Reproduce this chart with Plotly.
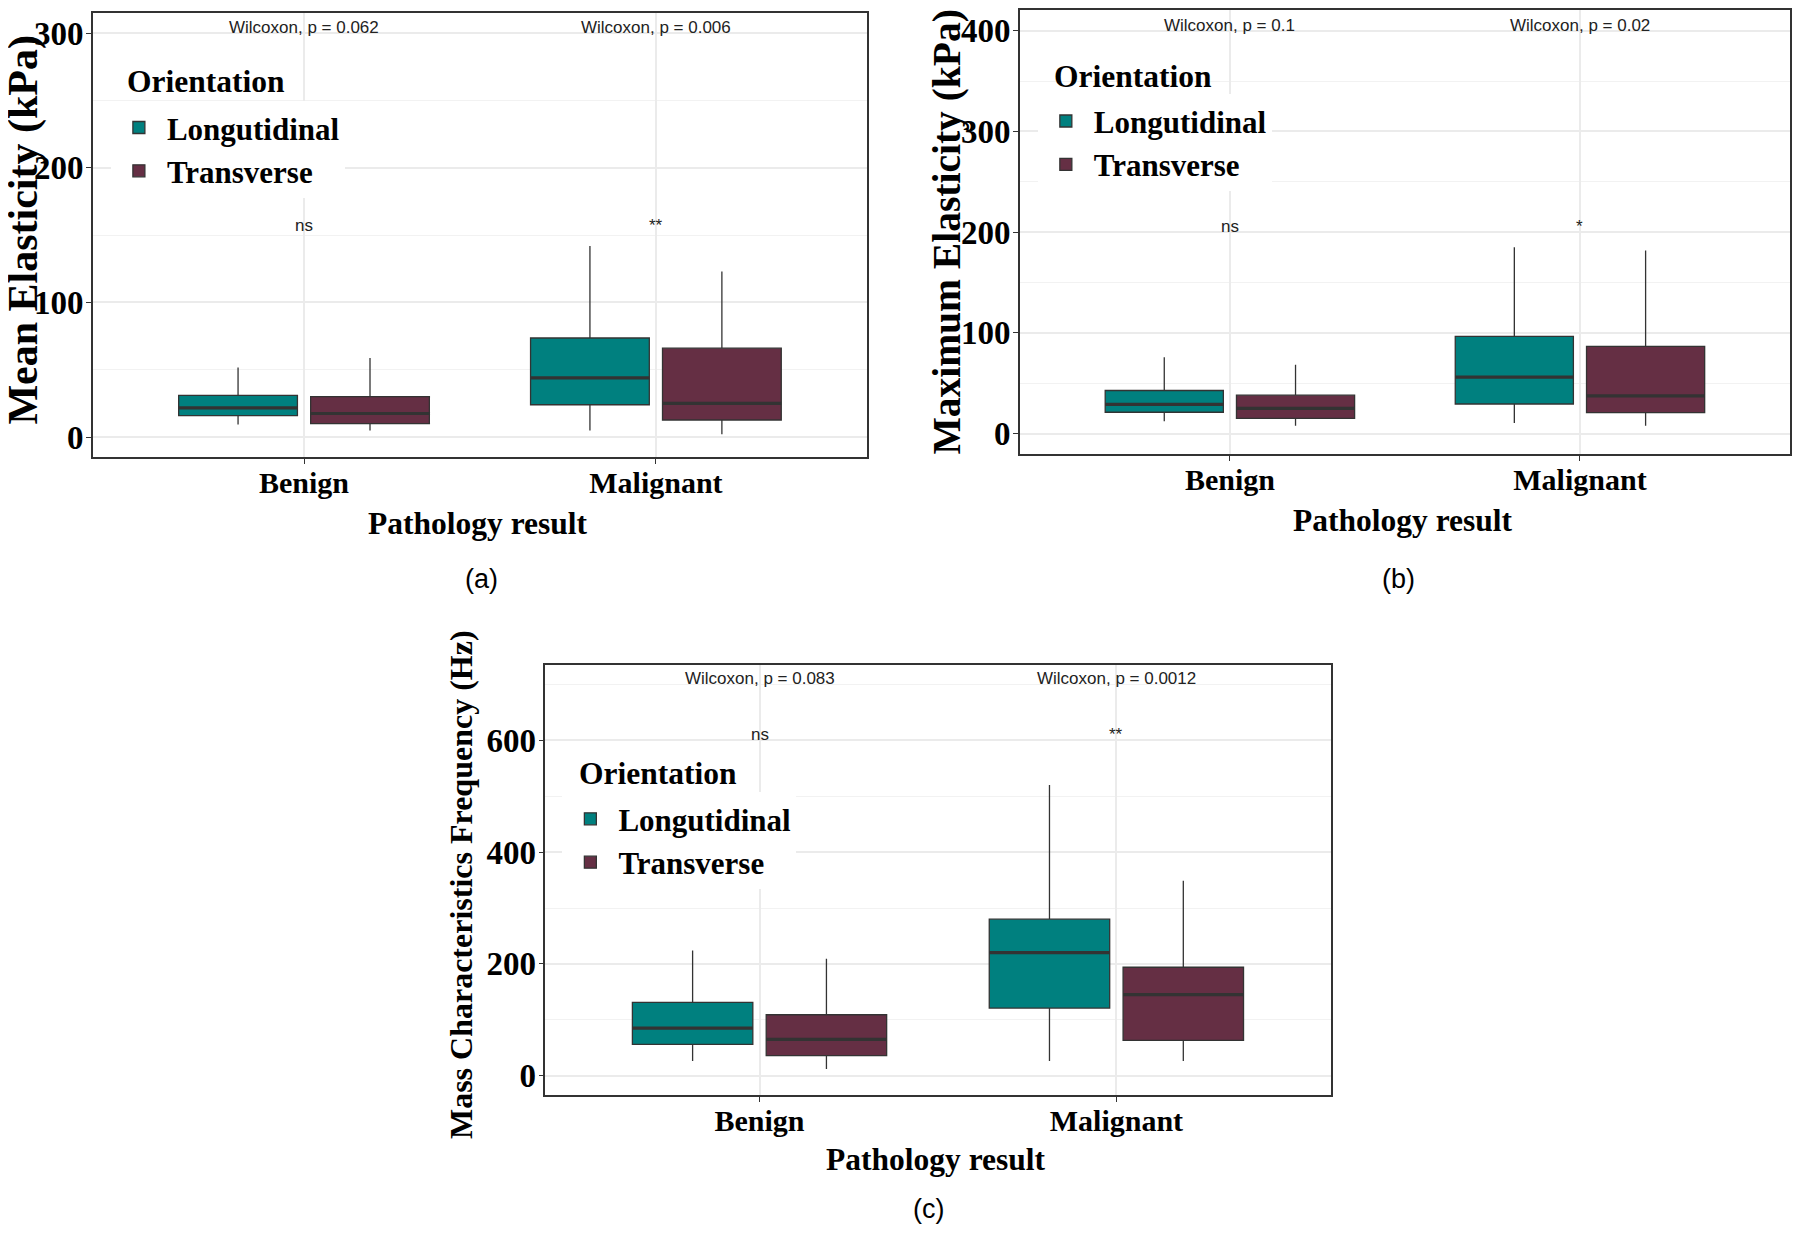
import plotly.graph_objects as go

# ---------------- data ----------------
categories = ["Benign", "Malignant"]
orientations = ["Longutidinal", "Transverse"]

# Panel (a): Mean Elasticity (kPa)
a_long_q1 = [16, 24]
a_long_med = [21.7, 44]
a_long_q3 = [31, 73.6]
a_long_lo = [9.3, 4.8]
a_long_hi = [51.7, 142]
a_tran_q1 = [10, 12.7]
a_tran_med = [17.5, 25]
a_tran_q3 = [30, 66]
a_tran_lo = [4.8, 2.1]
a_tran_hi = [58.8, 123]
a_pvals = ["Wilcoxon, p = 0.062", "Wilcoxon, p = 0.006"]
a_sig = ["ns", "**"]

# Panel (b): Maximum Elasticity (kPa)
b_long_q1 = [21.2, 29.4]
b_long_med = [29, 56]
b_long_q3 = [42.8, 96.5]
b_long_lo = [12.4, 10.6]
b_long_hi = [75.7, 185]
b_tran_q1 = [15.2, 20.9]
b_tran_med = [25, 37.5]
b_tran_q3 = [38.2, 86.6]
b_tran_lo = [7.8, 7.8]
b_tran_hi = [68.3, 181.8]
b_pvals = ["Wilcoxon, p = 0.1", "Wilcoxon, p = 0.02"]
b_sig = ["ns", "*"]

# Panel (c): Mass Characteristics Frequency (Hz)
c_long_q1 = [56, 121]
c_long_med = [85, 220]
c_long_q3 = [131, 280]
c_long_lo = [26, 26]
c_long_hi = [224, 520]
c_tran_q1 = [36, 63]
c_tran_med = [65, 145]
c_tran_q3 = [109, 194]
c_tran_lo = [12, 26]
c_tran_hi = [209, 349]
c_pvals = ["Wilcoxon, p = 0.083", "Wilcoxon, p = 0.0012"]
c_sig = ["ns", "**"]

# ---------------- style ----------------
OFF = 8                      # default page margin around the plot div
W, H = 1800 - 2 * OFF, 1235 - 2 * OFF
TEAL = "#00807F"
MAROON = "#652F44"
EDGE = "#333333"
GRID = "#EBEBEB"
SERIF = "Liberation Serif, Times New Roman, serif"
SANS = "Liberation Sans, Arial, sans-serif"


def px_x(p):
    return min(1.0, max(0.0, (p - OFF) / W))


def px_y(p):
    return min(1.0, max(0.0, 1 - (p - OFF) / H))


panels = [
    dict(key="", leg="legend",
         long=(a_long_q1, a_long_med, a_long_q3, a_long_lo, a_long_hi),
         tran=(a_tran_q1, a_tran_med, a_tran_q3, a_tran_lo, a_tran_hi),
         pvals=a_pvals, sig=a_sig, pv_y=304, sig_y=157,
         xdom=(93, 868), ydom=(11, 456), yrange=(-15, 315), dtick=100,
         ytitle="Mean Elasticity (kPa)", ytitle_size=42, ytitle_pos=(24, 228),
         xtitle_pos=(479, 522), sub="(a)", sub_pos=(482, 578),
         legbox=(115, 50, 349, 197), legtitle=(125, 80), legpos=(111, 99)),
    dict(key="2", leg="legend2",
         long=(b_long_q1, b_long_med, b_long_q3, b_long_lo, b_long_hi),
         tran=(b_tran_q1, b_tran_med, b_tran_q3, b_tran_lo, b_tran_hi),
         pvals=b_pvals, sig=b_sig, pv_y=405, sig_y=206,
         xdom=(1021, 1792), ydom=(8, 453), yrange=(-20.5, 420.5), dtick=100,
         ytitle="Maximum Elasticity (kPa)", ytitle_size=39.5, ytitle_pos=(948, 230),
         xtitle_pos=(1405, 519), sub="(b)", sub_pos=(1400, 578),
         legbox=(1043, 40, 1275, 190), legtitle=(1053, 75), legpos=(1039, 92.5)),
    dict(key="3", leg="legend3",
         long=(c_long_q1, c_long_med, c_long_q3, c_long_lo, c_long_hi),
         tran=(c_tran_q1, c_tran_med, c_tran_q3, c_tran_lo, c_tran_hi),
         pvals=c_pvals, sig=c_sig, pv_y=711, sig_y=611,
         xdom=(546, 1332), ydom=(664, 1095), yrange=(-35, 735), dtick=200,
         ytitle="Mass Characteristics Frequency (Hz)", ytitle_size=32, ytitle_pos=(461, 884),
         xtitle_pos=(937, 1159), sub="(c)", sub_pos=(930, 1209),
         legbox=(568, 745, 805, 886), legtitle=(578, 773), legpos=(563, 791.5)),
]

fig = go.Figure()
annotations = []
shapes = []
layout = dict(
    width=W, height=H,
    margin=dict(l=0, r=0, t=0, b=0),
    paper_bgcolor="white", plot_bgcolor="white",
    boxmode="group", boxgap=0.25, boxgroupgap=0.1,
    showlegend=True,
)

for p in panels:
    k = p["key"]
    xa, ya = "x" + k, "y" + k
    for name, stats, color, grp in [
        (orientations[0], p["long"], TEAL, "L"),
        (orientations[1], p["tran"], MAROON, "T"),
    ]:
        q1, med, q3, lo, hi = stats
        fig.add_trace(go.Box(
            x=categories, q1=q1, median=med, q3=q3, lowerfence=lo, upperfence=hi,
            name=name, fillcolor=color, line=dict(color=EDGE, width=1.3),
            whiskerwidth=0, boxpoints=False, offsetgroup=grp, alignmentgroup="g" + k,
            xaxis=xa, yaxis=ya, legend=p["leg"], showlegend=True,
        ))
        # thicker median line overlay
        fig.add_trace(go.Box(
            x=categories, q1=med, median=med, q3=med, lowerfence=med, upperfence=med,
            name=name, fillcolor="rgba(0,0,0,0)", line=dict(color=EDGE, width=3.2),
            whiskerwidth=0, boxpoints=False, offsetgroup=grp, alignmentgroup="g" + k,
            xaxis=xa, yaxis=ya, legend=p["leg"], showlegend=False, hoverinfo="skip",
        ))

    layout["xaxis" + k] = dict(
        domain=[px_x(p["xdom"][0]), px_x(p["xdom"][1])], anchor=ya,
        type="category", categoryorder="array", categoryarray=categories,
        range=[-0.6, 1.6], showgrid=True, gridcolor=GRID, gridwidth=1.5,
        showline=True, mirror=True, linecolor=EDGE, linewidth=1.5,
        ticks="outside", ticklen=5, tickcolor=EDGE, tickwidth=1,
        ticklabelstandoff=-7,
        tickfont=dict(family=SERIF, size=30, color="black", weight="bold"),
        zeroline=False, fixedrange=True,
    )
    layout["yaxis" + k] = dict(
        domain=[px_y(p["ydom"][1]), px_y(p["ydom"][0])], anchor=xa,
        range=list(p["yrange"]), dtick=p["dtick"], tick0=0,
        showgrid=True, gridcolor=GRID, gridwidth=1.5,
        minor=dict(dtick=p["dtick"] / 2, showgrid=True, gridcolor="#F2F2F2", gridwidth=1),
        showline=True, mirror=True, linecolor=EDGE, linewidth=1.5,
        ticks="outside", ticklen=5, tickcolor=EDGE, tickwidth=1,
        ticklabelstandoff=-4,
        tickfont=dict(family=SERIF, size=33, color="black", weight="bold"),
        zeroline=False, fixedrange=True,
    )
    layout[p["leg"]] = dict(
        x=px_x(p["legpos"][0]), y=px_y(p["legpos"][1]),
        xanchor="left", yanchor="top", xref="paper", yref="paper",
        bgcolor="white", borderwidth=0, itemwidth=46,
        font=dict(family=SERIF, size=31, color="black", weight="bold"),
        itemclick=False, itemdoubleclick=False,
    )
    # white legend background (covers gridlines, like the reference legend box)
    x0, y0, x1, y1 = p["legbox"]
    shapes.append(dict(
        type="rect", xref="paper", yref="paper", layer="between",
        x0=px_x(x0), x1=px_x(x1), y0=px_y(y1), y1=px_y(y0),
        fillcolor="white", line=dict(width=0),
    ))
    annotations.append(dict(
        x=px_x(p["legtitle"][0]), y=px_y(p["legtitle"][1]), xref="paper", yref="paper",
        text="Orientation", showarrow=False,
        font=dict(family=SERIF, size=31.5, color="black", weight="bold"),
        xanchor="left", yanchor="middle",
    ))

    # statistics labels
    for i, cat in enumerate(categories):
        annotations.append(dict(
            x=categories.index(cat), y=p["pv_y"], xref=xa, yref=ya,
            text=p["pvals"][i], showarrow=False,
            font=dict(family=SANS, size=17, color="#222222"),
            xanchor="center", yanchor="middle",
        ))
        annotations.append(dict(
            x=categories.index(cat), y=p["sig_y"], xref=xa, yref=ya,
            text=p["sig"][i], showarrow=False,
            font=dict(family=SANS, size=17, color="#222222"),
            xanchor="center", yanchor="middle",
        ))

    # axis titles
    annotations.append(dict(
        x=px_x(p["xtitle_pos"][0]), y=px_y(p["xtitle_pos"][1]), xref="paper", yref="paper",
        text="Pathology result", showarrow=False,
        font=dict(family=SERIF, size=31.5, color="black", weight="bold"),
        xanchor="center", yanchor="middle",
    ))
    annotations.append(dict(
        x=px_x(p["ytitle_pos"][0]), y=px_y(p["ytitle_pos"][1]), xref="paper", yref="paper",
        text=p["ytitle"], showarrow=False, textangle=-90,
        font=dict(family=SERIF, size=p["ytitle_size"], color="black", weight="bold"),
        xanchor="center", yanchor="middle",
    ))
    annotations.append(dict(
        x=px_x(p["sub_pos"][0]), y=px_y(p["sub_pos"][1]), xref="paper", yref="paper",
        text=p["sub"], showarrow=False,
        font=dict(family=SANS, size=27, color="black"),
        xanchor="center", yanchor="middle",
    ))

layout["annotations"] = annotations
layout["shapes"] = shapes
fig.update_layout(**layout)
fig.write_html("out.html")
